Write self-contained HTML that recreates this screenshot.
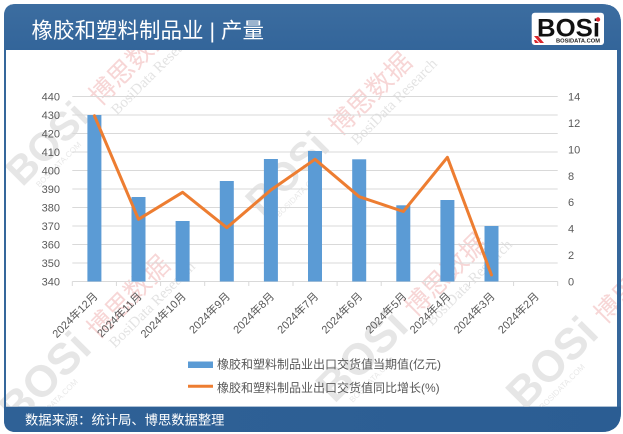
<!DOCTYPE html>
<html>
<head>
<meta charset="utf-8">
<style>
  html,body{margin:0;padding:0;background:#fff;}
  svg{display:block;}
  .cjk{font-family:"Liberation Sans","Noto Sans CJK SC",sans-serif;}
</style>
</head>
<body>
<svg width="623" height="434" viewBox="0 0 623 434" xmlns="http://www.w3.org/2000/svg">
  <defs>
    <linearGradient id="hdr" x1="0" y1="0" x2="0" y2="1">
      <stop offset="0" stop-color="#3C6DA0"/>
      <stop offset="1" stop-color="#33659A"/>
    </linearGradient>
    <linearGradient id="ftr" x1="0" y1="0" x2="1" y2="0">
      <stop offset="0" stop-color="#2F6196"/>
      <stop offset="1" stop-color="#2B5D93"/>
    </linearGradient>
  </defs>

  <!-- card -->
  <path d="M4,16 Q4,4 16,4 L601,4 Q621,4 621,24 L621,412 Q621,432 601,432 L16,432 Q4,432 4,420 Z" fill="#35679B"/>
  <!-- white panel -->
  <rect x="6" y="50" width="611" height="356.7" fill="#ffffff"/>

  <!-- watermarks -->
  <g>
    <g transform="translate(100,107) rotate(-45)">
      <text x="-112" y="2" font-family="Liberation Sans, sans-serif" font-weight="bold" font-size="40" fill="#E6E6E6">BOSi</text>
      <text x="-100" y="14" font-family="Liberation Sans, sans-serif" font-size="8" fill="#E8E8E8">BOSIDATA.COM</text>
      <text x="0" y="0" class="cjk" font-size="26" fill="#F7D6D6">博思数据</text>
      <text x="6" y="18" font-family="Liberation Serif, serif" font-size="15" fill="#E3E3E3">BosiData Research</text>
    </g>
    <g transform="translate(340,137) rotate(-45)">
      <text x="-112" y="2" font-family="Liberation Sans, sans-serif" font-weight="bold" font-size="40" fill="#E6E6E6">BOSi</text>
      <text x="-100" y="14" font-family="Liberation Sans, sans-serif" font-size="8" fill="#E8E8E8">BOSIDATA.COM</text>
      <text x="0" y="0" class="cjk" font-size="26" fill="#F7D6D6">博思数据</text>
      <text x="6" y="18" font-family="Liberation Serif, serif" font-size="15" fill="#E3E3E3">BosiData Research</text>
    </g>
    <g transform="translate(98,340) rotate(-45)">
      <text x="-118" y="4" font-family="Liberation Sans, sans-serif" font-weight="bold" font-size="44" fill="#E6E6E6">BOSi</text>
      <text x="-104" y="16" font-family="Liberation Sans, sans-serif" font-size="8" fill="#E8E8E8">BOSIDATA.COM</text>
      <text x="0" y="0" class="cjk" font-size="26" fill="#F7D6D6">博思数据</text>
      <text x="6" y="18" font-family="Liberation Serif, serif" font-size="15" fill="#E3E3E3">BosiData Research</text>
    </g>
    <g transform="translate(415,318) rotate(-45)">
      <text x="-118" y="4" font-family="Liberation Sans, sans-serif" font-weight="bold" font-size="44" fill="#E6E6E6">BOSi</text>
      <text x="-104" y="16" font-family="Liberation Sans, sans-serif" font-size="8" fill="#E8E8E8">BOSIDATA.COM</text>
      <text x="0" y="0" class="cjk" font-size="26" fill="#F7D6D6">博思数据</text>
      <text x="6" y="18" font-family="Liberation Serif, serif" font-size="15" fill="#E3E3E3">BosiData Research</text>
    </g>
    <g transform="translate(605,325) rotate(-45)">
      <text x="-118" y="4" font-family="Liberation Sans, sans-serif" font-weight="bold" font-size="44" fill="#E6E6E6">BOSi</text>
      <text x="-104" y="16" font-family="Liberation Sans, sans-serif" font-size="8" fill="#E8E8E8">BOSIDATA.COM</text>
      <text x="0" y="0" class="cjk" font-size="26" fill="#F7D6D6">博思数据</text>
    </g>
  </g>

  <!-- header (drawn over watermarks) -->
  <path d="M4,16 Q4,4 16,4 L601,4 Q621,4 621,24 L621,50 L4,50 Z" fill="url(#hdr)"/>
  <rect x="617" y="50" width="4" height="357" fill="#35679B"/>
  <rect x="4" y="50" width="2" height="357" fill="#35679B"/>
  <!-- footer -->
  <path d="M4,406.7 L621,406.7 L621,412 Q621,432 601,432 L16,432 Q4,432 4,420 Z" fill="url(#ftr)"/>

  <text x="31.5" y="38" class="cjk" font-size="21.5" fill="#ffffff">橡胶和塑料制品业 | 产量</text>

  <!-- logo -->
  <rect x="531.7" y="12.7" width="72.3" height="32.3" rx="3" fill="#ffffff"/>
  <text x="537" y="36.5" font-family="Liberation Sans, sans-serif" font-weight="bold" font-size="25" fill="#111" textLength="63" lengthAdjust="spacingAndGlyphs">BOSi</text>
  <path d="M534,36 L538,36 L544,43 L540,43 Z M534,40 L536,40 L539,43 L535,43 Z" fill="#D8262E"/>
  <circle cx="598" cy="19.5" r="2.2" fill="#D8262E"/>
  <text x="556" y="42.3" font-family="Liberation Sans, sans-serif" font-weight="bold" font-size="5.2" fill="#222" textLength="44" lengthAdjust="spacingAndGlyphs">BOSIDATA.COM</text>

  <!-- gridlines -->
  <g stroke="#D9D9D9" stroke-width="1">
    <line x1="72.3" x2="557.7" y1="96.5" y2="96.5"/>
    <line x1="72.3" x2="557.7" y1="115" y2="115"/>
    <line x1="72.3" x2="557.7" y1="133.5" y2="133.5"/>
    <line x1="72.3" x2="557.7" y1="152" y2="152"/>
    <line x1="72.3" x2="557.7" y1="170.5" y2="170.5"/>
    <line x1="72.3" x2="557.7" y1="189" y2="189"/>
    <line x1="72.3" x2="557.7" y1="207.5" y2="207.5"/>
    <line x1="72.3" x2="557.7" y1="226" y2="226"/>
    <line x1="72.3" x2="557.7" y1="244.5" y2="244.5"/>
    <line x1="72.3" x2="557.7" y1="263" y2="263"/>
    <line x1="72.3" x2="557.7" y1="281.5" y2="281.5"/>
  </g>
  <!-- ticks -->
  <g stroke="#D9D9D9" stroke-width="1">
    <line x1="72.3" x2="72.3" y1="281.5" y2="286"/>
    <line x1="116.4" x2="116.4" y1="281.5" y2="286"/>
    <line x1="160.6" x2="160.6" y1="281.5" y2="286"/>
    <line x1="204.7" x2="204.7" y1="281.5" y2="286"/>
    <line x1="248.8" x2="248.8" y1="281.5" y2="286"/>
    <line x1="293" x2="293" y1="281.5" y2="286"/>
    <line x1="337.1" x2="337.1" y1="281.5" y2="286"/>
    <line x1="381.2" x2="381.2" y1="281.5" y2="286"/>
    <line x1="425.3" x2="425.3" y1="281.5" y2="286"/>
    <line x1="469.5" x2="469.5" y1="281.5" y2="286"/>
    <line x1="513.6" x2="513.6" y1="281.5" y2="286"/>
    <line x1="557.7" x2="557.7" y1="281.5" y2="286"/>
  </g>

  <!-- left axis labels -->
  <g font-family="Liberation Sans, sans-serif" font-size="11" fill="#595959" text-anchor="end">
    <text x="60" y="100.5">440</text>
    <text x="60" y="119">430</text>
    <text x="60" y="137.5">420</text>
    <text x="60" y="156">410</text>
    <text x="60" y="174.5">400</text>
    <text x="60" y="193">390</text>
    <text x="60" y="211.5">380</text>
    <text x="60" y="230">370</text>
    <text x="60" y="248.5">360</text>
    <text x="60" y="267">350</text>
    <text x="60" y="285.5">340</text>
  </g>
  <!-- right axis labels -->
  <g font-family="Liberation Sans, sans-serif" font-size="11" fill="#595959">
    <text x="568" y="100.7">14</text>
    <text x="568" y="127">12</text>
    <text x="568" y="153.4">10</text>
    <text x="568" y="179.8">8</text>
    <text x="568" y="206.2">6</text>
    <text x="568" y="232.6">4</text>
    <text x="568" y="259">2</text>
    <text x="568" y="285.4">0</text>
  </g>

  <!-- bars -->
  <g fill="#5B9BD5">
    <rect x="87.4" y="115" width="14" height="166.5"/>
    <rect x="131.5" y="197" width="14" height="84.5"/>
    <rect x="175.6" y="221" width="14" height="60.5"/>
    <rect x="219.8" y="181" width="14" height="100.5"/>
    <rect x="263.9" y="159" width="14" height="122.5"/>
    <rect x="308" y="151" width="14" height="130.5"/>
    <rect x="352.2" y="159.3" width="14" height="122.2"/>
    <rect x="396.3" y="205.3" width="14" height="76.2"/>
    <rect x="440.4" y="200" width="14" height="81.5"/>
    <rect x="484.5" y="226" width="14" height="55.5"/>
  </g>

  <!-- line -->
  <polyline fill="none" stroke="#ED7D31" stroke-width="3" stroke-linejoin="round" stroke-linecap="round"
    points="94.4,115.7 138.5,219.3 182.6,192.3 226.8,227.7 270.9,190 315,159.3 359.2,196.7 403.3,211.5 447.4,157.3 491.5,275"/>

  <!-- x labels -->
  <g class="cjk" font-size="11" fill="#595959" text-anchor="end">
    <text transform="translate(98.4,297) rotate(-45)">2024年12月</text>
    <text transform="translate(142.5,297) rotate(-45)">2024年11月</text>
    <text transform="translate(186.6,297) rotate(-45)">2024年10月</text>
    <text transform="translate(230.8,297) rotate(-45)">2024年9月</text>
    <text transform="translate(274.9,297) rotate(-45)">2024年8月</text>
    <text transform="translate(319,297) rotate(-45)">2024年7月</text>
    <text transform="translate(363.2,297) rotate(-45)">2024年6月</text>
    <text transform="translate(407.3,297) rotate(-45)">2024年5月</text>
    <text transform="translate(451.4,297) rotate(-45)">2024年4月</text>
    <text transform="translate(495.5,297) rotate(-45)">2024年3月</text>
    <text transform="translate(539.7,297) rotate(-45)">2024年2月</text>
  </g>

  <!-- legend -->
  <rect x="188" y="361.5" width="25" height="6.5" fill="#5B9BD5"/>
  <text x="217" y="368.5" class="cjk" font-size="12" fill="#595959">橡胶和塑料制品业出口交货值当期值(亿元)</text>
  <line x1="188" x2="213" y1="386.2" y2="386.2" stroke="#ED7D31" stroke-width="3"/>
  <text x="217" y="392" class="cjk" font-size="12" fill="#595959">橡胶和塑料制品业出口交货值同比增长(%)</text>

  <!-- footer text -->
  <text x="25" y="424.3" class="cjk" font-size="13.3" fill="#ffffff">数据来源：统计局、博思数据整理</text>
</svg>
</body>
</html>
